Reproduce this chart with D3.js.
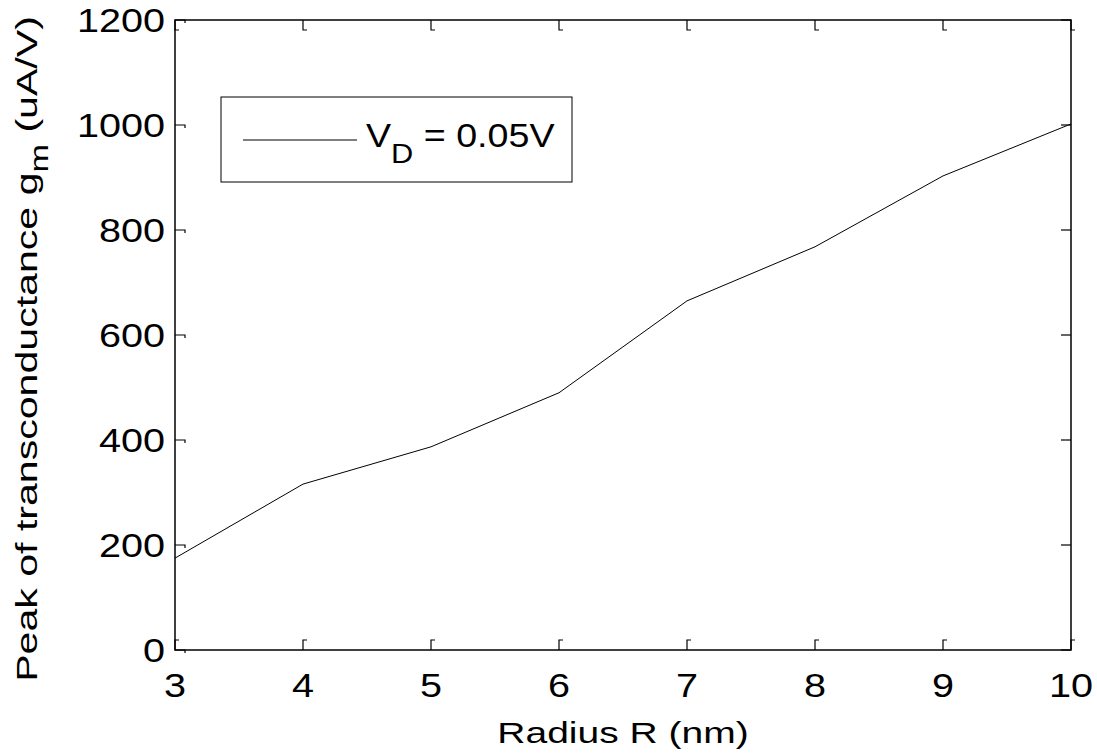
<!DOCTYPE html>
<html>
<head>
<meta charset="utf-8">
<script src="https://cdn.jsdelivr.net/npm/d3@7"></script>
<style>
  body { margin: 0; background: #fff; }
  svg text { font-family: "Liberation Sans", Arial, sans-serif; fill: #000; }
</style>
</head>
<body>
<div id="chart"></div>
<script>
// data
const radius = [3, 4, 5, 6, 7, 8, 9, 10]
const gmPeak = [175, 316, 387, 490, 665, 768, 903, 1002]
const xTicks = [3, 4, 5, 6, 7, 8, 9, 10]
const yTicks = [0, 200, 400, 600, 800, 1000, 1200]
const legendLabel = { main: 'V', sub: 'D', rest: ' = 0.05V' }

const width = 1097
const height = 755
const margin = { top: 20, right: 26, bottom: 105, left: 175 }
const plotW = width - margin.left - margin.right
const plotH = height - margin.top - margin.bottom

// the exported figure has slightly wide glyphs, so text gets a horizontal stretch
const TICK_FONT = 33, TICK_SX = 1.2
const TITLE_FONT = 30, TITLE_SX = 1.3, YTITLE_SX = 1.37

const svg = d3.select('#chart')
  .append('svg')
    .attr('width', width)
    .attr('height', height)

const x = d3.scaleLinear().domain([3, 10]).range([0, plotW])
const y = d3.scaleLinear().domain([0, 1200]).range([plotH, 0])

const g = svg.append('g')
  .attr('transform', `translate(${margin.left},${margin.top})`)

// axis frame
g.append('rect')
  .attr('width', plotW)
  .attr('height', plotH)
  .attr('fill', 'none')
  .attr('stroke', '#000')
  .attr('stroke-width', 1.5)

// inner ticks, a little like the matlab export
const TICK = 10
const ticks = g.append('g').attr('stroke', '#000').attr('fill', 'none')
xTicks.forEach(v => {
  const px = x(v)
  ticks.append('path').attr('d', `M${px},${plotH}V${plotH - TICK}h4`).attr('stroke-width', 1.2)
  ticks.append('path').attr('d', `M${px},0V${TICK}h4`).attr('stroke-width', 1.2)
})
yTicks.forEach(v => {
  const py = y(v)
  ticks.append('path').attr('d', `M0,${py}H${TICK}v3`).attr('stroke-width', 1.2)
  ticks.append('path').attr('d', `M${plotW},${py}H${plotW - TICK}`).attr('stroke-width', 1.2)
})

// tick labels
g.append('g')
  .selectAll('text')
  .data(xTicks)
  .join('text')
    .attr('transform', d => `translate(${x(d)},${plotH + 47}) scale(${TICK_SX},1)`)
    .attr('text-anchor', 'middle')
    .style('font-size', TICK_FONT + 'px')
    .text(d => d)

g.append('g')
  .selectAll('text')
  .data(yTicks)
  .join('text')
    .attr('transform', d => `translate(-10,${y(d) + 12}) scale(${TICK_SX},1)`)
    .attr('text-anchor', 'end')
    .style('font-size', TICK_FONT + 'px')
    .text(d => d)

// data line
const line = d3.line()
  .x((d, i) => x(radius[i]))
  .y(d => y(d))

g.append('path')
  .datum(gmPeak)
  .attr('d', line)
  .attr('fill', 'none')
  .attr('stroke', '#000')
  .attr('stroke-width', 1)

// axis titles
svg.append('text')
  .attr('transform', `translate(${margin.left + plotW / 2},743) scale(${TITLE_SX},1)`)
  .attr('text-anchor', 'middle')
  .style('font-size', TITLE_FONT + 'px')
  .text('Radius R (nm)')

const yt = svg.append('text')
  .attr('transform', `translate(37,349) rotate(-90) scale(${YTITLE_SX},1)`)
  .attr('text-anchor', 'middle')
  .style('font-size', TITLE_FONT + 'px')
yt.append('tspan').text('Peak of transconductance g')
yt.append('tspan').attr('dy', 11).style('font-size', '25px').text('m')
yt.append('tspan').attr('dy', -11).text(' (uA/V)')

// legend
const lg = svg.append('g').attr('transform', 'translate(221,97)')
lg.append('rect')
  .attr('width', 351)
  .attr('height', 85)
  .attr('fill', '#fff')
  .attr('stroke', '#000')
  .attr('stroke-width', 1)
lg.append('line')
  .attr('x1', 22).attr('x2', 136)
  .attr('y1', 43).attr('y2', 43)
  .attr('stroke', '#000')
  .attr('stroke-width', 1)
const lt = lg.append('text')
  .attr('transform', 'translate(145,50) scale(1.14,1)')
  .style('font-size', '33px')
lt.append('tspan').text(legendLabel.main)
lt.append('tspan').attr('dy', 16).style('font-size', '27px').text(legendLabel.sub)
lt.append('tspan').attr('dy', -16).text(legendLabel.rest)
</script>
</body>
</html>
